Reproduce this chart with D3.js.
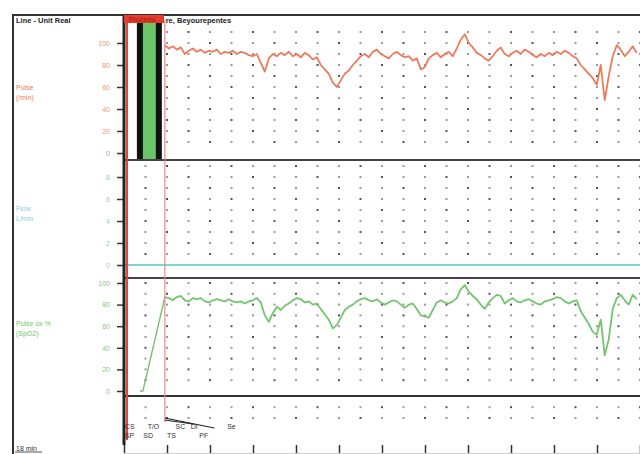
<!DOCTYPE html>
<html><head><meta charset="utf-8">
<script src="https://cdn.jsdelivr.net/npm/d3@7"></script>
<style>
html,body{margin:0;padding:0;background:#fff;}
svg{display:block;font-family:"Liberation Sans","DejaVu Sans",sans-serif;}
</style></head>
<body>
<svg id="c" width="640" height="454"></svg>
<script>
// ---------- data ----------
const timeStart = 0.95;      // minutes, first sample of traces
const timeStep = 0.093;      // minutes between samples
const pulseValues = [98,95,97,94,96,90,93,95,92,94,91,93,92,94,90,92,91,93,90,92,91,89,88,90,82,74,86,90,88,91,89,92,88,90,87,91,89,85,87,80,76,72,64,60,66,72,75,80,84,88,90,87,92,94,90,88,86,90,92,89,87,88,84,86,76,78,86,89,91,87,90,92,88,95,103,108,100,96,91,89,86,84,88,93,96,90,88,91,93,90,94,92,89,87,90,88,91,89,92,90,93,91,88,86,80,76,72,68,62,80,48,70,88,98,94,88,92,97,91];
const spo2Values = [87,86,84,87,88,84,83,86,85,86,83,82,84,85,84,83,85,83,82,83,81,83,84,86,82,70,64,72,78,75,79,81,84,86,85,82,83,80,81,76,71,66,58,61,68,75,78,80,83,85,86,84,83,85,82,80,82,84,83,80,77,80,81,76,70,69,68,75,82,84,82,81,83,86,94,98,92,88,85,80,76,82,86,89,88,81,84,86,83,82,84,85,83,81,80,83,84,85,87,86,83,81,83,84,74,68,62,55,52,66,33,48,76,86,89,84,80,89,85];
const spo2RampTimes = [0.37, 0.44, 0.95];
const spo2RampValues = [0, 0, 87];
const flowTimes = [0, 12];
const flowValues = [0, 0];
const pulseTicks = [0, 20, 40, 60, 80, 100];
const flowTicks = [0, 2, 4, 6, 8];
const spo2Ticks = [0, 20, 40, 60, 80, 100];
const timeTicks = [0,1,2,3,4,5,6,7,8,9,10,11,12];
const eventLabels = ["CS","SP","SD","T/O","TS","SC","DI","PF","Se"];
const eventTimes  = [0.02, 0.02, 0.45, 0.55, 1.0, 1.2, 1.55, 1.75, 2.4];
const eventRows   = [0, 1, 1, 0, 1, 0, 0, 1, 0];
const seriesLabels = [["Pulse","(/min)"],["Flow","L/min"],["Pulse ox %","(SpO2)"]];
const headerLeft = "Line - Unit Real";
const headerRight = "re, Beyourepentes";
const headerBox = "Procedu";
const footerText = "18 min";

// ---------- scales ----------
const svg = d3.select("#c");
const x = d3.scaleLinear().domain([0, 12]).range([124, 640]);
const yP = d3.scaleLinear().domain([0, 120]).range([153, 21]);
const yF = d3.scaleLinear().domain([0, 10]).range([265, 155]);
const yS = d3.scaleLinear().domain([0, 105]).range([391, 277.6]);

const orange = "#ee7a5c", green = "#74c46e", cyan = "#7fd3d3";

// frame
svg.append("line").attr("x1",13).attr("x2",13).attr("y1",15).attr("y2",454).attr("stroke","#333").attr("stroke-width",2);
svg.append("line").attr("x1",12).attr("x2",640).attr("y1",15).attr("y2",15).attr("stroke","#333").attr("stroke-width",2);

// grid dots
function dots(scale, vals) {
  const g = svg.append("g");
  const cols = d3.range(0.5, 12.01, 0.5);
  vals.forEach((v, j) => cols.forEach((t, i) => {
    g.append("rect").attr("x", x(t) - 1).attr("y", scale(v) - 1)
      .attr("width", 2).attr("height", 2)
      .attr("fill", (i + j) % 3 === 0 ? "#555" : "#999");
  }));
}
dots(yP, d3.range(10, 111, 10));
dots(yF, d3.range(1, 10, 1));
dots(yS, d3.range(10, 101, 10).concat([-15, -25]));

// black/green bar
svg.append("rect").attr("x", x(0.3)).attr("y", 22).attr("width", x(0.88) - x(0.3)).attr("height", 138).attr("fill", "#111");
svg.append("rect").attr("x", x(0.44)).attr("y", 22).attr("width", x(0.74) - x(0.44)).attr("height", 138).attr("fill", "#6cc46a");

// panel separators
[[yP(0) + 7, "#444"], [yS(105) + 0.5, "#444"], [yS(0) + 5, "#333"]].forEach(([yy, c]) => {
  svg.append("line").attr("x1", 124).attr("x2", 640).attr("y1", yy).attr("y2", yy).attr("stroke", c).attr("stroke-width", 2);
});

// left axes
function leftAxis(scale, minor, labelled, color) {
  const g = svg.append("g").attr("transform", "translate(124,0)");
  g.call(d3.axisLeft(scale).tickValues(minor).tickSize(5).tickFormat(""));
  g.call(d3.axisLeft(scale).tickValues(labelled).tickSize(7).tickFormat(d3.format("d")));
  g.selectAll(".domain").remove();
  g.selectAll("line").attr("stroke", "#333").attr("stroke-width", 1.5);
  g.selectAll("text").attr("fill", color).attr("font-size", 7).attr("x", -14);
}
leftAxis(yP, d3.range(0, 111, 10), pulseTicks, "#e8956f");
leftAxis(yF, d3.range(0, 10, 1), flowTicks, "#9cc");
leftAxis(yS, d3.range(0, 101, 10), spo2Ticks, "#8bc47f");

// traces
const lineP = d3.line().x((d, i) => x(timeStart + i * timeStep)).y(d => yP(d));
const lineS = d3.line().x((d, i) => x(timeStart + i * timeStep)).y(d => yS(d));
svg.append("path").datum(pulseValues).attr("d", lineP).attr("fill", "none").attr("stroke", orange).attr("stroke-width", 1.8).attr("stroke-linejoin", "round");
svg.append("path").datum(spo2RampValues).attr("d", d3.line().x((d, i) => x(spo2RampTimes[i])).y(d => yS(d)))
  .attr("fill", "none").attr("stroke", green).attr("stroke-width", 1.4);
svg.append("path").datum(spo2Values).attr("d", lineS).attr("fill", "none").attr("stroke", green).attr("stroke-width", 1.8).attr("stroke-linejoin", "round");
svg.append("path").datum(flowValues).attr("d", d3.line().x((d, i) => x(flowTimes[i])).y(d => yF(d)))
  .attr("fill", "none").attr("stroke", cyan).attr("stroke-width", 2);

// vertical lines
svg.append("line").attr("x1", 124).attr("x2", 124).attr("y1", 15).attr("y2", 445).attr("stroke", "#222").attr("stroke-width", 3);
svg.append("line").attr("x1", 127).attr("x2", 127).attr("y1", 15).attr("y2", 440).attr("stroke", "#e0483a").attr("stroke-width", 2);
svg.append("line").attr("x1", x(0.95)).attr("x2", x(0.95)).attr("y1", 20).attr("y2", 422).attr("stroke", "#ea8a80").attr("stroke-width", 1.2);

// header
svg.append("rect").attr("x", 124).attr("y", 15).attr("width", x(0.93) - 124).attr("height", 8).attr("fill", "#e53b2c");
svg.append("text").attr("x", 16).attr("y", 23).attr("font-size", 7.5).attr("font-weight", "bold").attr("fill", "#222").text(headerLeft);
svg.append("text").attr("x", 129).attr("y", 22).attr("font-size", 7).attr("fill", "#a01c12").text(headerBox);
svg.append("text").attr("x", x(0.97)).attr("y", 23).attr("font-size", 7.5).attr("font-weight", "bold").attr("fill", "#222").text(headerRight);

// series labels
const labelY = [[yP(60) + 3, orange], [yF(5) + 1, cyan], [yS(65) + 5, green]];
seriesLabels.forEach((lines, k) => {
  lines.forEach((s, j) => {
    svg.append("text").attr("x", 16).attr("y", labelY[k][0] + j * 10).attr("font-size", 7)
      .attr("fill", labelY[k][1]).text(s);
  });
});

// events
const evG = svg.append("g");
eventLabels.forEach((s, i) => {
  evG.append("text").attr("x", x(eventTimes[i])).attr("y", eventRows[i] ? 438 : 429)
    .attr("font-size", 7).attr("fill", "#333").text(s);
});
evG.append("line").attr("x1", x(0.95)).attr("y1", 418).attr("x2", x(2.1)).attr("y2", 428).attr("stroke", "#222").attr("stroke-width", 1.2);
evG.append("line").attr("x1", x(0.95)).attr("y1", 420).attr("x2", x(1.6)).attr("y2", 424).attr("stroke", "#222").attr("stroke-width", 1.2);

// bottom time axis
const ax = svg.append("g").attr("transform", "translate(0,453)")
  .call(d3.axisTop(x).tickValues(timeTicks).tickSize(8).tickFormat(""));
ax.selectAll("line").attr("stroke", "#333").attr("stroke-width", 1.5);
ax.select(".domain").attr("stroke", "#ccc");

// footer
svg.append("text").attr("x", 16).attr("y", 451).attr("font-size", 7).attr("fill", "#333").text(footerText);
svg.append("line").attr("x1", 15).attr("x2", 42).attr("y1", 452).attr("y2", 452).attr("stroke", "#555");
</script>
</body></html>
